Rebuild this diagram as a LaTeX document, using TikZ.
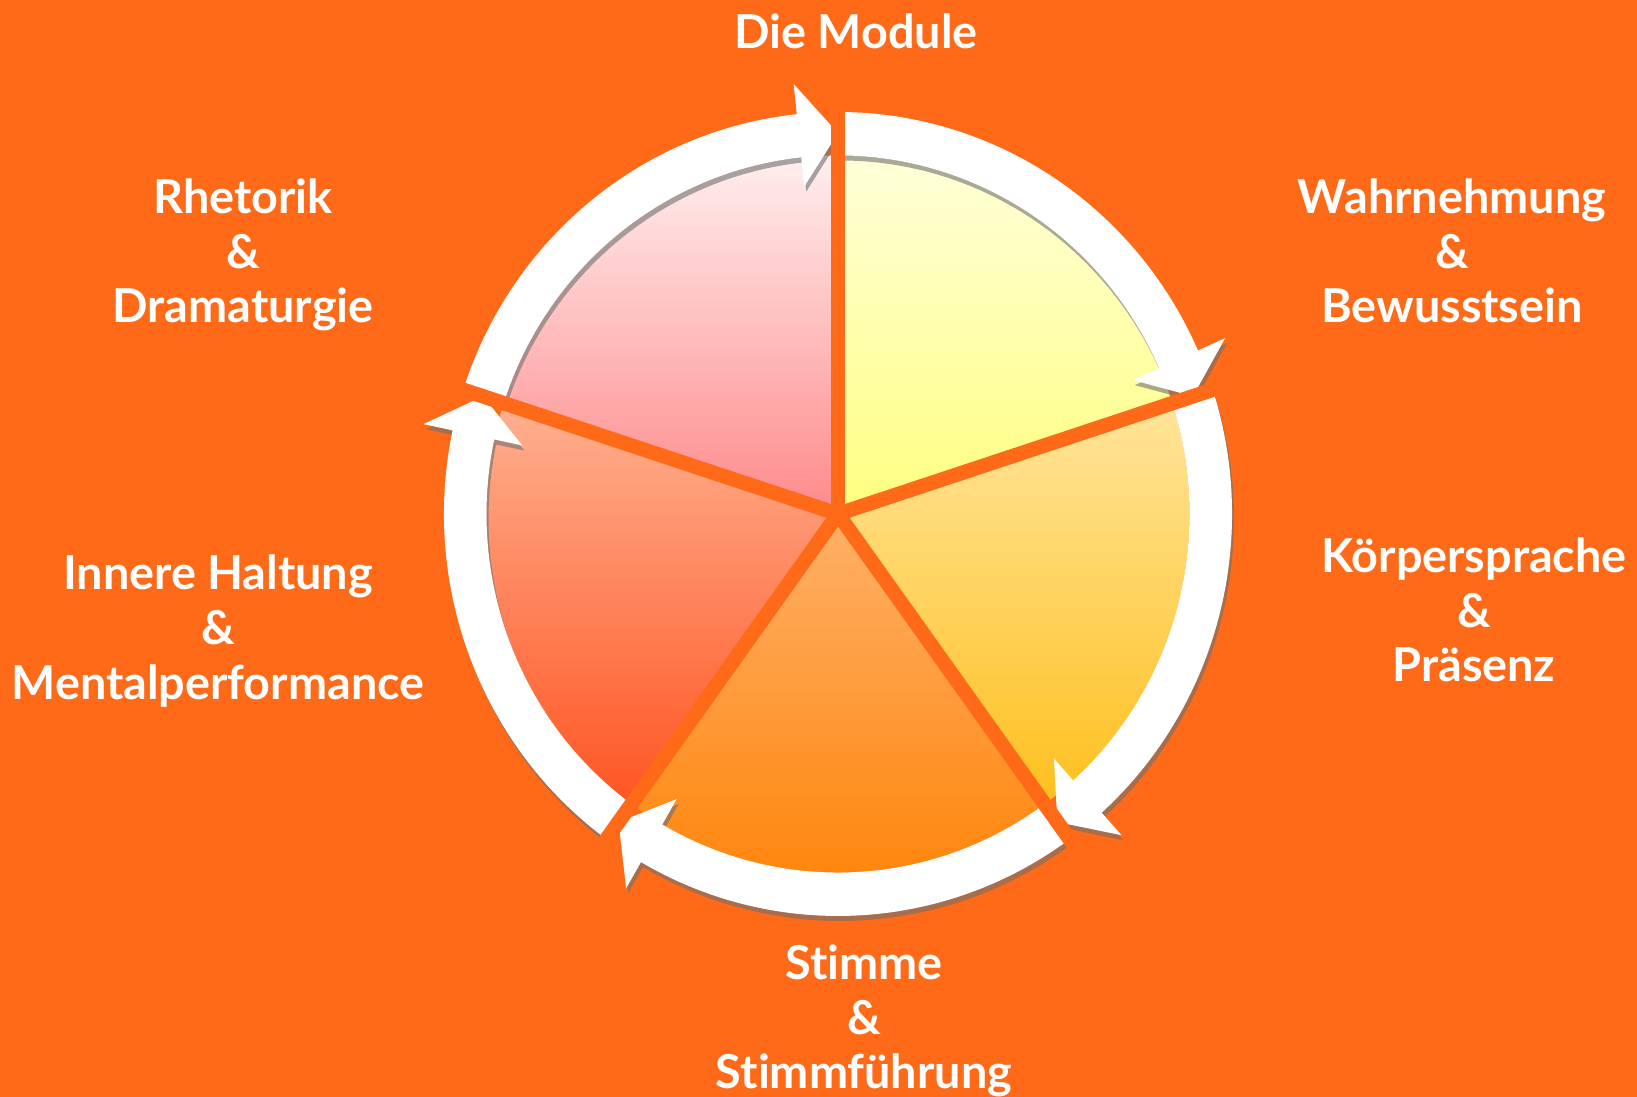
\documentclass[tikz,border=0pt]{standalone}
\usepackage{fontspec}
\setmainfont{Lato}[Ligatures={NoCommon,NoRare}]
\definecolor{bgorange}{HTML}{FF6A18}
\definecolor{shadowgray}{HTML}{707070}
% Pfeil auf dem Ring: #1 Startwinkel, #2 Winkel der Spitze (im Uhrzeigersinn)
\newcommand{\ringarrow}[2]{(#1:398) arc[start angle=#1, end angle=#2+6, radius=398]
    -- (#2+6:428) -- (#2:377) -- (#2+6:326) -- (#2+6:355)
    arc[start angle=#2+6, end angle=#1, radius=355] -- cycle}
\begin{document}
\begin{tikzpicture}[x=0.1mm, y=0.1mm,
    modlabel/.style={text=white, align=center, font=\fontsize{13.3}{15.6}\selectfont\bfseries},
    sepline/.style={bgorange, line width=1.45mm},
    ringshadow/.style={fill=shadowgray, opacity=0.6, shift={(2,-5)}}]

    % Hintergrund
    \fill[bgorange] (0,0) rectangle (1637,1097);
    \useasboundingbox (0,0) rectangle (1637,1097);

    \begin{scope}[shift={(838,583)}, xscale=0.99, yscale=1.01]
    % Tortenstuecke
    \shade[top color=white!85!yellow, bottom color=yellow!50!white] (0,0) -- (18:355) arc[start angle=18, end angle=90, radius=355] -- cycle;
    \shade[top color={rgb,255:red,255;green,228;blue,154}, bottom color={rgb,255:red,255;green,192;blue,30}] (0,0) -- (-54:355) arc[start angle=-54, end angle=18, radius=355] -- cycle;
    \shade[top color={rgb,255:red,255;green,176;blue,104}, bottom color={rgb,255:red,255;green,132;blue,8}] (0,0) -- (-126:355) arc[start angle=-126, end angle=-54, radius=355] -- cycle;
    \shade[top color={rgb,255:red,255;green,176;blue,144}, bottom color={rgb,255:red,255;green,85;blue,34}] (0,0) -- (162:355) arc[start angle=162, end angle=234, radius=355] -- cycle;
    \shade[top color={rgb,255:red,255;green,238;blue,238}, bottom color={rgb,255:red,255;green,138;blue,138}] (0,0) -- (90:355) arc[start angle=90, end angle=162, radius=355] -- cycle;

    % Schatten der Pfeile
    \foreach \a in {162,90,18,-54,-126}
        \path[ringshadow] \ringarrow{\a+72}{\a};

    % Pfeile
    \foreach \a in {162,90,18,-54,-126}
        \fill[white] \ringarrow{\a+72}{\a};

    % Trennlinien
    \foreach \a in {90,18,-54,-126,162}
        \draw[sepline] (0,0) -- (\a:445);
    \end{scope}

    % Beschriftungen
    \node[modlabel] (title) at (856,1066) {Die Module};
    \node[modlabel] (wahr) at (1452,846) {Wahrnehmung\\\&\\Bewusstsein};
    \node[modlabel] (koerper) at (1474,487) {Körpersprache\\\&\\Präsenz};
    \node[modlabel] (stimme) at (864,76) {Stimme\\\&\\Stimmführung};
    \node[modlabel] (haltung) at (218,466) {Innere Haltung\\\&\\Mentalperformance};
    \node[modlabel] (rhetorik) at (243,842) {Rhetorik\\\&\\Dramaturgie};

\end{tikzpicture}
\end{document}
